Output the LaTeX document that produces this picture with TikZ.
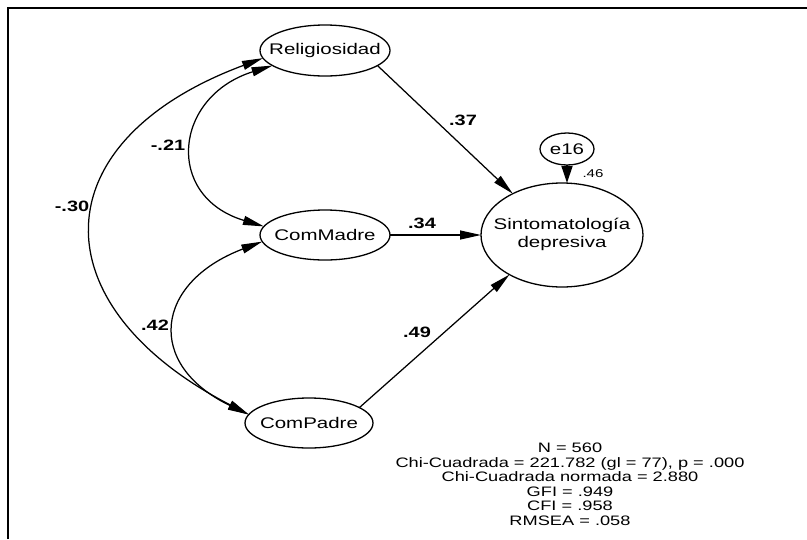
\documentclass[tikz,border=0pt]{standalone}
\usepackage{fontspec}
\setmainfont{Liberation Sans}[FakeStretch=1.33]
\usetikzlibrary{shapes.geometric,arrows.meta}
% zero-width box so the ellipse size is set only by minimum width/height
\newcommand\zw[1]{\makebox[0pt]{#1}}

\begin{document}
\begin{tikzpicture}[x=1pt,y=-1pt,
  latent/.style={ellipse, draw, line width=1.3pt, inner sep=0pt, outer sep=0pt,
    font=\fontsize{15.4}{17.7}\selectfont},
  regpath/.style={line width=1.25pt, -{Triangle[length=21pt,width=9pt]}},
  covpath/.style={line width=1.25pt,
    {Triangle[length=21pt,width=9pt]}-{Triangle[length=21pt,width=9pt]}},
  coef/.style={font=\fontsize{15}{18}\selectfont\bfseries, inner sep=0pt},
  ]
\useasboundingbox (0,0) rectangle (807,539);

% frame
\draw[line width=2pt] (8,539) -- (8,7.5) -- (807,7.5);

% variables
\node[latent, minimum width=130pt, minimum height=51pt] (rel) at (325,50.5) {\zw{Religiosidad}};
\node[latent, minimum width=130pt, minimum height=50pt] (mad) at (325,235) {\zw{ComMadre}};
\node[latent, minimum width=128pt, minimum height=50pt] (pad) at (309,423) {\zw{ComPadre}};
\node[latent, minimum width=162pt, minimum height=104pt] (sin) at (562,235)
  {\zw{\begin{tabular}{@{}c@{}}Sintomatología\\depresiva\end{tabular}}};
\node[latent, minimum width=54pt, minimum height=32pt] (e16) at (567,149) {\zw{e16}};

% regression paths
\draw[regpath] (rel.-16) -- (sin.140.5);
\draw[regpath] (mad.east) -- (sin.west);
\draw[regpath] (pad.17) -- (sin.217.7);
\draw[line width=1.25pt, -{Triangle[length=17pt,width=11pt]}] (e16.south) -- (e16.south |- sin.north);

% covariances
\draw[covpath] (rel.187) .. controls +(-223,83) and +(-211,-109) .. (pad.172.5);
\draw[covpath] (rel.196) .. controls +(-99,31) and +(-100,-30) .. (mad.172.6);
\draw[covpath] (mad.186.4) .. controls +(-108,41) and +(-104,-50) .. (pad.172.5);

% estimates
\node[coef] (l37) at (463,120) {.37};
\node[coef] (l21) at (168,145) {-.21};
\node[coef] (l30) at (72,206) {-.30};
\node[coef] (l34) at (422,223) {.34};
\node[coef] (l42) at (155,325) {.42};
\node[coef] (l49) at (417,332) {.49};
\node[font=\fontsize{11.3}{13}\selectfont, inner sep=0pt] (r46) at (593,174) {.46};

% fit indices
\node[align=center, font=\fontsize{13.7}{14.5}\selectfont, inner sep=0pt, anchor=north] (fit) at (570,443)
  {N = 560\\Chi-Cuadrada = 221.782 (gl = 77), p = .000\\Chi-Cuadrada normada = 2.880\\GFI = .949\\CFI = .958\\RMSEA = .058};
\end{tikzpicture}
\end{document}
